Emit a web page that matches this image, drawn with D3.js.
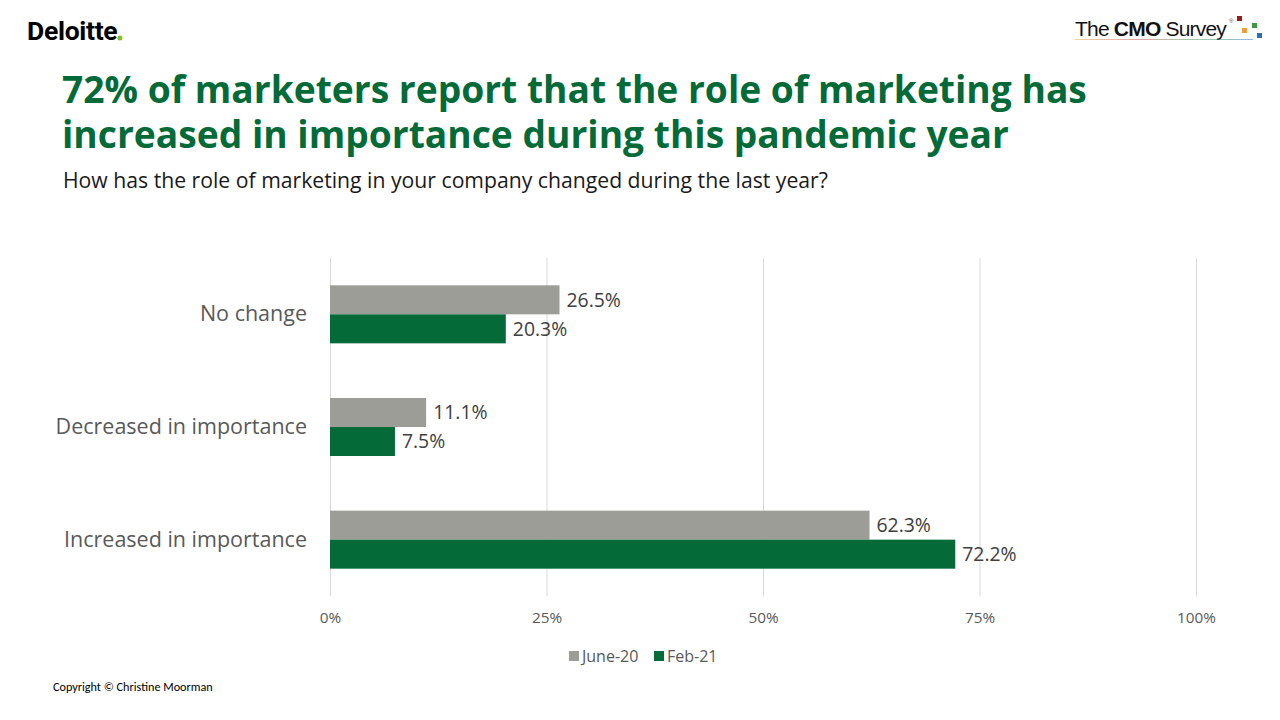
<!DOCTYPE html>
<html><head><meta charset="utf-8">
<script src="https://cdn.jsdelivr.net/npm/d3@7"></script>
<style>body{margin:0;background:#fff}svg{display:block}</style>
</head><body>
<svg id="c" width="1280" height="720"></svg>
<script>
const categories = ["No change", "Decreased in importance", "Increased in importance"];
const seriesNames = ["June-20", "Feb-21"];
const june20 = [26.5, 11.1, 62.3];
const feb21 = [20.3, 7.5, 72.2];
const tickValues = [0, 25, 50, 75, 100];
const colors = ["#9D9D97", "#046A38"];

const svg = d3.select("#c");
const font = "'Open Sans', sans-serif";

// Logos / header
const dl = svg.append("text").attr("x", 27).attr("y", 40).attr("font-family", "Roboto, Arial, sans-serif")
  .attr("font-weight", 700).attr("font-size", 26.5).attr("fill", "#000").attr("letter-spacing", -0.3).text("Deloitte");
const dw = dl.node().getComputedTextLength();
svg.append("circle").attr("cx", 27 + dw + 2.5).attr("cy", 38).attr("r", 2.5).attr("fill", "#86BC25");

const cmo = svg.append("g");
const t = cmo.append("text").attr("x", 1075).attr("y", 36).attr("font-family", "Arial, 'Liberation Sans', sans-serif")
  .attr("font-size", 21).attr("fill", "#111").attr("letter-spacing", -0.8);
t.append("tspan").text("The ");
t.append("tspan").attr("font-weight", 700).text("CMO");
t.append("tspan").text(" Survey");
cmo.append("text").attr("x", 1229).attr("y", 23).attr("font-size", 6).attr("font-family", "Arial").attr("fill", "#555").text("®");
cmo.append("rect").attr("x", 1237).attr("y", 16).attr("width", 5).attr("height", 5).attr("fill", "#9B1B1E");
cmo.append("rect").attr("x", 1242).attr("y", 28).attr("width", 5).attr("height", 5).attr("fill", "#E8A03A");
cmo.append("rect").attr("x", 1252).attr("y", 23).attr("width", 5).attr("height", 5).attr("fill", "#3A9A44");
cmo.append("rect").attr("x", 1257).attr("y", 33).attr("width", 5).attr("height", 5).attr("fill", "#2C6FB7");
const grad = svg.append("defs").append("linearGradient").attr("id", "lg");
[["0%","#E8A03A"],["35%","#C0504D"],["65%","#3A9A44"],["100%","#2C6FB7"]].forEach(s=>grad.append("stop").attr("offset",s[0]).attr("stop-color",s[1]).attr("stop-opacity",0.5));
cmo.append("rect").attr("x", 1075).attr("y", 39).attr("width", 178).attr("height", 1).attr("fill", "url(#lg)");

// Title (one text element, two lines)
const title = svg.append("text").attr("font-family", font).attr("font-weight", 700)
  .attr("font-size", 37.2).attr("fill", "#046A38");
title.append("tspan").attr("x", 62).attr("y", 103).text("72% of marketers report that the role of marketing has");
title.append("tspan").attr("x", 62).attr("y", 148).text("increased in importance during this pandemic year");
svg.append("text").attr("x", 63).attr("y", 188).attr("font-family", font)
  .attr("font-size", 21.2).attr("fill", "#1a1a1a").text("How has the role of marketing in your company changed during the last year?");

// Chart
const x = d3.scaleLinear().domain([0, 100]).range([330, 1196]);
const y = d3.scaleBand().domain(categories).range([258, 596]).paddingInner(0.485).paddingOuter(0.2425);
const ys = d3.scaleBand().domain(seriesNames).range([0, y.bandwidth()]);

const xAxis = d3.axisBottom(x).tickValues(tickValues).tickSize(596 - 258).tickFormat(d => d + "%");
const ax = svg.append("g").attr("transform", "translate(0,258)").call(xAxis);
ax.select(".domain").remove();
ax.selectAll(".tick line").attr("stroke", "#D9D9D9").attr("stroke-width", 1);
ax.selectAll(".tick text").attr("font-family", font).attr("font-size", 15.3).attr("fill", "#595959").attr("dy", "1.6em");

const data = categories.map((c, i) => ({cat: c, vals: [june20[i], feb21[i]]}));
const g = svg.append("g").selectAll("g").data(data).join("g").attr("transform", d => `translate(0,${y(d.cat)})`);
g.selectAll("rect").data(d => d.vals.map((v, j) => ({v, s: seriesNames[j], j})))
  .join("rect").attr("x", x(0)).attr("y", d => ys(d.s)).attr("width", d => x(d.v) - x(0))
  .attr("height", ys.bandwidth()).attr("fill", d => colors[d.j]);
g.selectAll("text.v").data(d => d.vals.map((v, j) => ({v, s: seriesNames[j]})))
  .join("text").attr("class", "v").attr("x", d => x(d.v) + 7).attr("y", d => ys(d.s) + ys.bandwidth() / 2)
  .attr("dy", "0.36em").attr("font-family", font).attr("font-size", 19.4).attr("fill", "#404040")
  .text(d => d.v.toFixed(1) + "%");

const yAxis = d3.axisLeft(y).tickSize(0).tickPadding(23);
const ay = svg.append("g").attr("transform", "translate(330,0)").call(yAxis);
ay.select(".domain").remove();
ay.selectAll(".tick text").attr("font-family", font).attr("font-size", 21.5).attr("fill", "#595959");

// Legend
const leg = svg.append("g");
const lx = [569, 654];
seriesNames.forEach((s, i) => {
  leg.append("rect").attr("x", lx[i]).attr("y", 651).attr("width", 10).attr("height", 10).attr("fill", colors[i]);
  leg.append("text").attr("x", lx[i] + 13).attr("y", 656).attr("dy", "0.36em").attr("font-family", font)
    .attr("font-size", 16).attr("fill", "#595959").text(s);
});

svg.append("text").attr("x", 53).attr("y", 691).attr("font-family", "Calibri, Carlito, 'Liberation Sans', sans-serif")
  .attr("font-size", 12.2).attr("fill", "#000").text("Copyright © Christine Moorman");
</script>
</body></html>
